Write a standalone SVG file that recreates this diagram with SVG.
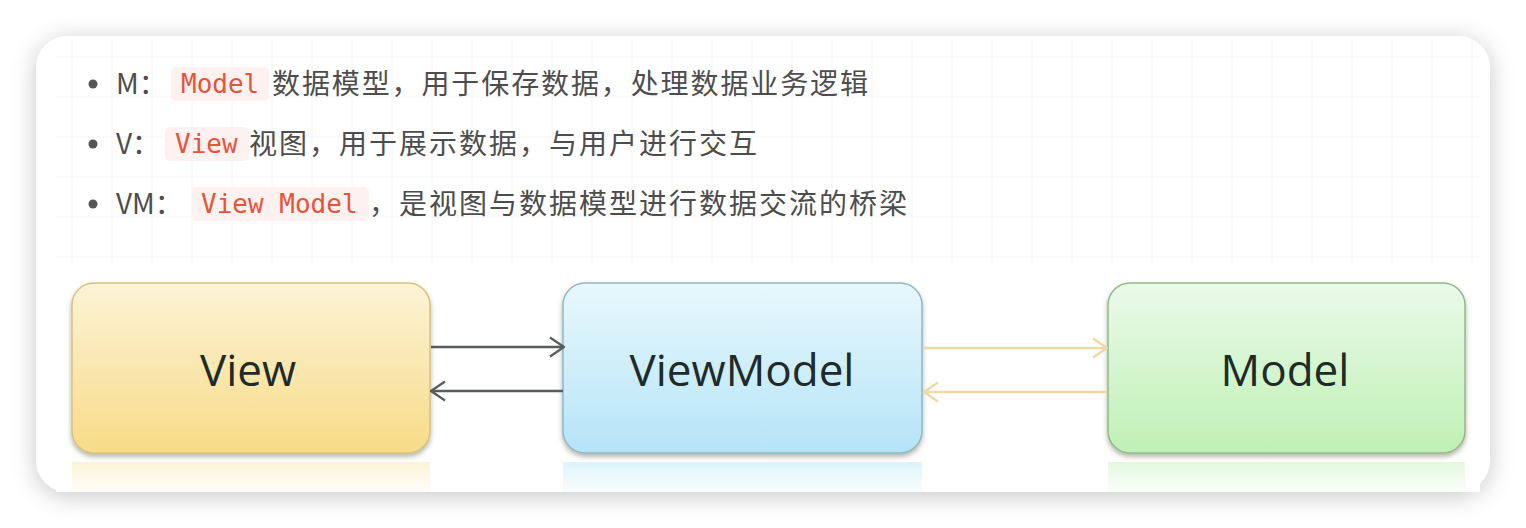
<svg xmlns="http://www.w3.org/2000/svg" width="1526" height="528" viewBox="0 0 1526 528">
<style>
.txt{font-family:"Noto Sans CJK SC","Noto Sans",sans-serif;font-size:28px;fill:#4d4d4d}
.code{font-family:"DejaVu Sans Mono","Liberation Mono",monospace;font-size:26px;fill:#e8533a}
.codebg{fill:#fdf2f0}
.grid{stroke:#f4f4f4;stroke-width:1}
.lbl{font-family:"Open Sans","Noto Sans",sans-serif;font-size:44px;fill:#1f2a2a;text-anchor:middle}
.dark{stroke:#585c5c;stroke-width:2.5;fill:none}
.gold{stroke:#ecd9a4;stroke-width:2.5;fill:none}
</style>
<defs>
<filter id="cardShadow" x="-10%" y="-20%" width="120%" height="140%">
<feDropShadow dx="0" dy="4" stdDeviation="12" flood-color="#000" flood-opacity="0.22"/>
</filter>
<filter id="boxShadow" x="-10%" y="-10%" width="120%" height="130%">
<feDropShadow dx="0" dy="3" stdDeviation="2.5" flood-color="#5a5a40" flood-opacity="0.45"/>
</filter>
<linearGradient id="gYellow" x1="0" y1="0" x2="0" y2="1">
<stop offset="0" stop-color="#fdf4d6"/><stop offset="1" stop-color="#f7db88"/>
</linearGradient>
<linearGradient id="gBlue" x1="0" y1="0" x2="0" y2="1">
<stop offset="0" stop-color="#e8f8fc"/><stop offset="1" stop-color="#b5e4f7"/>
</linearGradient>
<linearGradient id="gGreen" x1="0" y1="0" x2="0" y2="1">
<stop offset="0" stop-color="#eafaea"/><stop offset="1" stop-color="#bff0b4"/>
</linearGradient>
<linearGradient id="rYellow" x1="0" y1="0" x2="0" y2="1">
<stop offset="0" stop-color="#fbeec4" stop-opacity="0.7"/><stop offset="1" stop-color="#fdf7e4" stop-opacity="0.3"/>
</linearGradient>
<linearGradient id="rBlue" x1="0" y1="0" x2="0" y2="1">
<stop offset="0" stop-color="#cdeef9" stop-opacity="0.7"/><stop offset="1" stop-color="#eaf8fd" stop-opacity="0.3"/>
</linearGradient>
<linearGradient id="rGreen" x1="0" y1="0" x2="0" y2="1">
<stop offset="0" stop-color="#d5f5cf" stop-opacity="0.7"/><stop offset="1" stop-color="#eefcec" stop-opacity="0.3"/>
</linearGradient>
<marker id="arrDark" viewBox="0 0 16 22" refX="15" refY="11" markerWidth="16" markerHeight="22" markerUnits="userSpaceOnUse" orient="auto">
<path d="M1 1.5 L15 11 L1 20.5" fill="none" stroke="#585c5c" stroke-width="2.2"/>
</marker>
<marker id="arrGold" viewBox="0 0 16 22" refX="15" refY="11" markerWidth="16" markerHeight="22" markerUnits="userSpaceOnUse" orient="auto">
<path d="M1 1.5 L15 11 L1 20.5" fill="none" stroke="#ecd9a4" stroke-width="2.5"/>
</marker>
</defs>
<rect x="0" y="0" width="1526" height="528" fill="#ffffff"/>
<rect x="36" y="36" width="1454" height="456" rx="32" fill="#ffffff" filter="url(#cardShadow)"/>
<g id="grid">
<line class="grid" x1="56" y1="57" x2="1480" y2="57"/>
<line class="grid" x1="56" y1="97" x2="1480" y2="97"/>
<line class="grid" x1="56" y1="137" x2="1480" y2="137"/>
<line class="grid" x1="56" y1="177" x2="1480" y2="177"/>
<line class="grid" x1="56" y1="217" x2="1480" y2="217"/>
<line class="grid" x1="56" y1="257" x2="1480" y2="257"/>
<path class="grid" d="M72 40V262M112 40V262M152 40V262M192 40V262M232 40V262M272 40V262M312 40V262M352 40V262M392 40V262M432 40V262M472 40V262M512 40V262M552 40V262M592 40V262M632 40V262M672 40V262M712 40V262M752 40V262M792 40V262M832 40V262M872 40V262M912 40V262M952 40V262M992 40V262M1032 40V262M1072 40V262M1112 40V262M1152 40V262M1192 40V262M1232 40V262M1272 40V262M1312 40V262M1352 40V262M1392 40V262M1432 40V262M1472 40V262"/>
</g>
<g id="bullets">
<circle cx="93" cy="84" r="4.5" fill="#555"/>
<circle cx="93" cy="144" r="4.5" fill="#555"/>
<circle cx="93" cy="204" r="4.5" fill="#555"/>
</g>
<g id="line1">
<text class="txt" x="116" y="94">M：</text>
<rect class="codebg" x="171" y="67" width="98" height="34" rx="5"/>
<text class="code" x="181" y="93">Model</text>
<text class="txt" x="272" y="94" textLength="596" lengthAdjust="spacing">数据模型，用于保存数据，处理数据业务逻辑</text>
</g>
<g id="line2">
<text class="txt" x="116" y="154">V：</text>
<rect class="codebg" x="165" y="127" width="84" height="34" rx="5"/>
<text class="code" x="175" y="153">View</text>
<text class="txt" x="249" y="154" textLength="508" lengthAdjust="spacing">视图，用于展示数据，与用户进行交互</text>
</g>
<g id="line3">
<text class="txt" x="116" y="214">VM：</text>
<rect class="codebg" x="191" y="187" width="178" height="34" rx="5"/>
<text class="code" x="201" y="213">View Model</text>
<text class="txt" x="369" y="214" textLength="538" lengthAdjust="spacing">，是视图与数据模型进行数据交流的桥梁</text>
</g>
<rect x="56" y="262" width="1424" height="230" fill="#ffffff"/>
<g id="reflections">
<rect x="72" y="462" width="358" height="30" fill="url(#rYellow)"/>
<rect x="563" y="462" width="359" height="30" fill="url(#rBlue)"/>
<rect x="1108" y="462" width="357" height="30" fill="url(#rGreen)"/>
</g>
<g id="node-view">
<rect x="72" y="283" width="358" height="170" rx="22" fill="url(#gYellow)" stroke="#d9c27e" stroke-width="1.5" filter="url(#boxShadow)"/>
<text class="lbl" x="248" y="386">View</text>
</g>
<g id="node-viewmodel">
<rect x="563" y="283" width="359" height="170" rx="22" fill="url(#gBlue)" stroke="#8fb9c6" stroke-width="1.5" filter="url(#boxShadow)"/>
<text class="lbl" x="742" y="386">ViewModel</text>
</g>
<g id="node-model">
<rect x="1108" y="283" width="357" height="170" rx="22" fill="url(#gGreen)" stroke="#93b98c" stroke-width="1.5" filter="url(#boxShadow)"/>
<text class="lbl" x="1285" y="386">Model</text>
</g>
<g id="connectors">
<line class="dark" x1="431" y1="347" x2="564" y2="347" marker-end="url(#arrDark)"/>
<line class="dark" x1="563" y1="391" x2="431" y2="391" marker-end="url(#arrDark)"/>
<line class="gold" x1="923" y1="348" x2="1107" y2="348" marker-end="url(#arrGold)"/>
<line class="gold" x1="1107" y1="392" x2="924" y2="392" marker-end="url(#arrGold)"/>
</g>
</svg>
